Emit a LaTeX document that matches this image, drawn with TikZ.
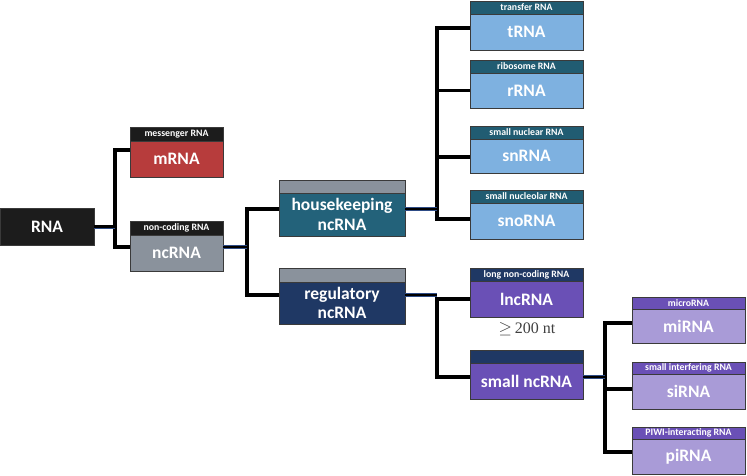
\documentclass[tikz,border=0pt]{standalone}
\usepackage{fontspec}
\setmainfont{Carlito}
\newfontfamily\serifnt{Liberation Serif}
\definecolor{cblack}{HTML}{1C1C1C}
\definecolor{cred}{HTML}{B73C3C}
\definecolor{cgray}{HTML}{8A929C}
\definecolor{cteal}{HTML}{23627A}
\definecolor{cnavy}{HTML}{1F3864}
\definecolor{chdteal}{HTML}{215C72}
\definecolor{clblue}{HTML}{7EB1E0}
\definecolor{cpurple}{HTML}{6A50B6}
\definecolor{clav}{HTML}{A99BD7}
\definecolor{cedge}{HTML}{3A3A3A}
\definecolor{clink}{HTML}{2E4C86}
\tikzset{
  box/.style={draw=cedge, line width=0.8pt, inner sep=0pt, outer sep=0pt, anchor=north west,
    text=white, font=\bfseries\fontsize{17.5}{19.5}\selectfont, align=center},
  hdr/.style={draw=cedge, line width=0.8pt, inner sep=0pt, outer sep=0pt, anchor=south west,
    text=white, font=\bfseries\fontsize{9.8}{10}\selectfont},
  bracket/.style={line width=3.4pt, black, line join=miter},
  linkblue/.style={line width=4pt, clink},
  linkblack/.style={line width=2.2pt, black},
}
\begin{document}
\begin{tikzpicture}[x=1pt,y=-1pt]
\useasboundingbox (0,0) rectangle (747,476);
% spine x positions
\coordinate (s1) at (115,0);
\coordinate (s2) at (247,0);
\coordinate (s3) at (437,0);
\coordinate (s4) at (437,0);
\coordinate (s5) at (605,0);

% RNA
\node[box, fill=cblack, minimum width=94pt, minimum height=37pt] (RNA) at (0,208) {RNA};
% mRNA
\node[box, fill=cred, minimum width=93pt, minimum height=36pt] (mRNA) at (130,141) {mRNA};
\node[hdr, fill=cblack, minimum width=93pt, minimum height=14pt] (mRNA-h) at (mRNA.north west) {messenger RNA};
% ncRNA
\node[box, fill=cgray, minimum width=93pt, minimum height=36pt] (ncRNA) at (130,235) {ncRNA};
\node[hdr, fill=cblack, minimum width=93pt, minimum height=14pt] (ncRNA-h) at (ncRNA.north west) {non-coding RNA};
% housekeeping
\node[box, fill=cteal, minimum width=126pt, minimum height=43pt] (house) at (279,193) {housekeeping\\ncRNA};
\node[hdr, fill=cgray, minimum width=126pt, minimum height=13pt] (house-h) at (house.north west) {};
% regulatory
\node[box, fill=cnavy, minimum width=126pt, minimum height=42pt] (reg) at (279,282) {regulatory\\ncRNA};
\node[hdr, fill=cgray, minimum width=126pt, minimum height=14pt] (reg-h) at (reg.north west) {};
% housekeeping children
\node[box, fill=clblue, minimum width=113pt, minimum height=36pt] (tRNA) at (470,14) {tRNA};
\node[hdr, fill=chdteal, minimum width=113pt, minimum height=13pt] (tRNA-h) at (tRNA.north west) {transfer RNA};
\node[box, fill=clblue, minimum width=113pt, minimum height=35pt] (rRNA) at (470,73) {rRNA};
\node[hdr, fill=chdteal, minimum width=113pt, minimum height=13pt] (rRNA-h) at (rRNA.north west) {ribosome RNA};
\node[box, fill=clblue, minimum width=113pt, minimum height=34pt] (snRNA) at (470,139) {snRNA};
\node[hdr, fill=chdteal, minimum width=113pt, minimum height=13pt] (snRNA-h) at (snRNA.north west) {small nuclear RNA};
\node[box, fill=clblue, minimum width=113pt, minimum height=36pt] (snoRNA) at (470,203) {snoRNA};
\node[hdr, fill=chdteal, minimum width=113pt, minimum height=13pt] (snoRNA-h) at (snoRNA.north west) {small nucleolar RNA};
% regulatory children
\node[box, fill=cpurple, minimum width=113pt, minimum height=36pt] (lncRNA) at (470,281) {lncRNA};
\node[hdr, fill=cnavy, minimum width=113pt, minimum height=13pt] (lncRNA-h) at (lncRNA.north west) {long non-coding RNA};
\node[font=\serifnt\fontsize{16}{18}\selectfont, text=black!75, inner sep=0pt] (nt) at (527,329) {$\geq$\,200 nt};
\node[box, fill=cpurple, minimum width=113pt, minimum height=36pt] (small) at (470,363) {small ncRNA};
\node[hdr, fill=cnavy, minimum width=113pt, minimum height=13pt] (small-h) at (small.north west) {};
% small ncRNA children
\node[box, fill=clav, minimum width=113pt, minimum height=34pt] (miRNA) at (632,309) {miRNA};
\node[hdr, fill=cpurple, minimum width=113pt, minimum height=12pt] (miRNA-h) at (miRNA.north west) {microRNA};
\node[box, fill=clav, minimum width=113pt, minimum height=35pt] (siRNA) at (632,374) {siRNA};
\node[hdr, fill=cpurple, minimum width=113pt, minimum height=12pt] (siRNA-h) at (siRNA.north west) {small interfering RNA};
\node[box, fill=clav, minimum width=113pt, minimum height=35pt] (piRNA) at (632,439) {piRNA};
\node[hdr, fill=cpurple, minimum width=113pt, minimum height=12pt] (piRNA-h) at (piRNA.north west) {PIWI-interacting RNA};

% connection points
\coordinate (RNA-e) at (RNA.east);
\coordinate (mRNA-w) at ([yshift=9pt]mRNA.west);
\coordinate (ncRNA-w) at ([yshift=6pt]ncRNA.west);
\coordinate (ncRNA-e) at ([yshift=6pt]ncRNA.east);
\coordinate (house-w) at ([yshift=5.5pt]house.west);
\coordinate (house-e) at ([yshift=5.5pt]house.east);
\coordinate (reg-w) at ([yshift=8pt]reg.west);
\coordinate (reg-e) at ([yshift=8pt]reg.east);
\coordinate (tRNA-w) at ([yshift=4pt]tRNA.west);
\coordinate (rRNA-w) at (rRNA.west);
\coordinate (snRNA-w) at ([yshift=-1pt]snRNA.west);
\coordinate (snoRNA-w) at ([yshift=2pt]snoRNA.west);
\coordinate (lncRNA-w) at ([yshift=0pt]lncRNA.west);
\coordinate (small-w) at ([yshift=4pt]small.west);
\coordinate (small-e) at ([yshift=4pt]small.east);
\coordinate (miRNA-w) at ([yshift=3pt]miRNA.west);
\coordinate (siRNA-w) at ([yshift=2.5pt]siRNA.west);
\coordinate (piRNA-w) at ([yshift=4.5pt]piRNA.west);

% brackets
\draw[bracket] (mRNA-w) -- (mRNA-w -| s1) -- (ncRNA-w -| s1) -- (ncRNA-w);
\draw[bracket] (house-w) -- (house-w -| s2) -- (reg-w -| s2) -- (reg-w);
\draw[bracket] (tRNA-w) -- (tRNA-w -| s3) -- (snoRNA-w -| s3) -- (snoRNA-w);
\draw[bracket] (rRNA-w) -- (rRNA-w -| s3);
\draw[bracket] (snRNA-w) -- (snRNA-w -| s3);
\draw[bracket] (lncRNA-w) -- (lncRNA-w -| s4) -- (small-w -| s4) -- (small-w);
\draw[bracket] (miRNA-w) -- (miRNA-w -| s5) -- (piRNA-w -| s5) -- (piRNA-w);
\draw[bracket] (siRNA-w) -- (siRNA-w -| s5);

% parent links
\foreach \p/\s in {RNA/s1, ncRNA/s2, house/s3, reg/s4, small/s5}{
  \draw[linkblue] (\p-e) -- (\p-e -| \s);
  \draw[linkblack] (\p-e) -- (\p-e -| \s);
}
\end{tikzpicture}
\end{document}
